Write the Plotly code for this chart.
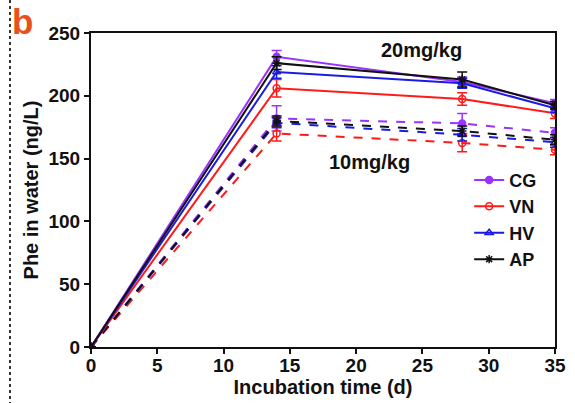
import plotly.graph_objects as go

days = [0, 14, 28, 35]
groups = ["CG", "VN", "HV", "AP"]
colors = {"CG": "#9933FF", "VN": "#FF1A1A", "HV": "#1A1AE6", "AP": "#111111"}
symbols = {"CG": "circle", "VN": "circle-open", "HV": "triangle-up-open", "AP": "asterisk-open"}

high_vals = {
    "CG": [0, 231, 211, 194],
    "VN": [0, 206, 197.5, 186],
    "HV": [0, 219, 210, 190],
    "AP": [0, 226, 213, 192.5],
}
high_err = {
    "CG": [0, 5, 4, 3],
    "VN": [0, 7, 5, 4],
    "HV": [0, 5, 4, 3],
    "AP": [0, 5, 6, 3],
}
low_vals = {
    "CG": [0, 182, 178, 170.5],
    "VN": [0, 170, 162.5, 157],
    "HV": [0, 178.5, 169, 163],
    "AP": [0, 180, 172, 165],
}
low_err = {
    "CG": [0, 10, 8, 4],
    "VN": [0, 6, 7, 4],
    "HV": [0, 4, 5, 4],
    "AP": [0, 4, 4, 4],
}

font_family = "Liberation Sans, Arial, sans-serif"
ink = "#111111"

fig = go.Figure()
# dashed (10 mg/kg) first, below
for g in groups:
    fig.add_trace(go.Scatter(
        x=days, y=low_vals[g], mode="lines+markers", showlegend=False,
        line=dict(color=colors[g], width=2, dash="dash"),
        marker=dict(symbol=symbols[g], size=7, color=colors[g], line=dict(color=colors[g], width=1.5)),
        error_y=dict(type="data", array=low_err[g], color=colors[g], thickness=1.5, width=5),
    ))
for g in groups:
    fig.add_trace(go.Scatter(
        x=days, y=high_vals[g], mode="lines+markers", name=g,
        line=dict(color=colors[g], width=2),
        marker=dict(symbol=symbols[g], size=7, color=colors[g], line=dict(color=colors[g], width=1.5)),
        error_y=dict(type="data", array=high_err[g], color=colors[g], thickness=1.5, width=5),
    ))

axis_common = dict(
    showgrid=False, zeroline=False, showline=True, linecolor=ink, linewidth=2,
    mirror=True, ticks="outside", ticklen=5, tickwidth=2, tickcolor=ink, automargin=False,
    tickfont=dict(family=font_family, size=19, color=ink, weight="bold"),
)

fig.update_layout(
    width=575, height=403,
    margin=dict(l=91, r=20, t=33, b=56),
    paper_bgcolor="white", plot_bgcolor="white",
    xaxis=dict(range=[0, 35], tickvals=[0, 5, 10, 15, 20, 25, 30, 35], ticklabelstandoff=-5,
               title=dict(text="Incubation time (d)", standoff=0,
                          font=dict(family=font_family, size=20, color=ink, weight="bold")),
               **axis_common),
    yaxis=dict(range=[0, 250], tickvals=[0, 50, 100, 150, 200, 250],
               title=dict(text="Phe in water (ng/L)", standoff=4,
                          font=dict(family=font_family, size=20, color=ink, weight="bold")),
               **axis_common),
    legend=dict(x=0.815, y=0.59, xanchor="left", yanchor="top", bgcolor="rgba(0,0,0,0)",
                font=dict(family=font_family, size=18, color=ink, weight="bold"),
                tracegroupgap=0, itemwidth=30),
    showlegend=True,
)

fig.add_annotation(x=24.9, y=236.5, text="20mg/kg", showarrow=False,
                   font=dict(family=font_family, size=20, color=ink, weight="bold"))
fig.add_annotation(x=21.0, y=147.3, text="10mg/kg", showarrow=False,
                   font=dict(family=font_family, size=20, color=ink, weight="bold"))

# panel label
fig.add_annotation(xref="paper", yref="paper", x=(10 - 91) / 464, y=(347 - 0) / 314,
                   xanchor="left", yanchor="top", text="b", showarrow=False,
                   font=dict(family=font_family, size=35, color="#E8501E", weight="bold"))
# dotted vertical separator
fig.add_shape(type="line", xref="paper", yref="paper",
              x0=(10 - 91) / 464, x1=(10 - 91) / 464,
              y0=(347 - 0) / 314, y1=(347 - 403) / 314,
              line=dict(color="#333333", width=2, dash="dot"))

fig.write_html("out.html")
